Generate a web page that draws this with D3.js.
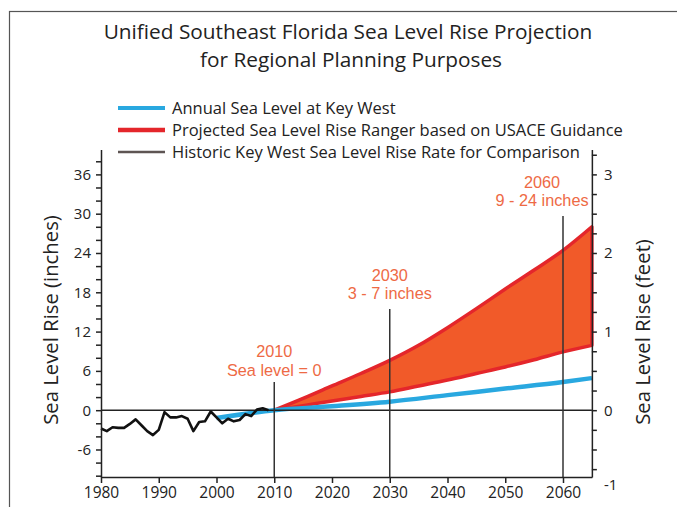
<!DOCTYPE html>
<html><head><meta charset="utf-8">
<script src="https://cdn.jsdelivr.net/npm/d3@7/dist/d3.min.js"></script>
<style>
html,body{margin:0;padding:0;background:#fff;}
svg{display:block;font-family:"Open Sans","Noto Sans",sans-serif;}
</style></head>
<body>
<svg id="c" width="677" height="507"></svg>
<script>
// ---- data ----
const histYears = [1980,1981,1982,1983,1984,1985,1986,1987,1988,1989,1990,1991,1992,1993,1994,1995,1996,1997,1998,1999,2000,2001,2002,2003,2004,2005,2006,2007,2008,2009];
const histInches = [-2.8,-3.2,-2.6,-2.7,-2.7,-2.1,-1.4,-2.3,-3.2,-3.8,-3.0,-0.3,-1.1,-1.1,-0.9,-1.3,-3.2,-1.8,-1.7,-0.2,-1.1,-2.0,-1.3,-1.7,-1.5,-0.6,-0.9,0.1,0.3,0.0];
const trendYears = [2000,2010,2020,2030,2040,2050,2060,2065];
const trendInches = [-1.2,0,0.6,1.3,2.3,3.3,4.3,4.9];
const projYears = [2010,2015,2020,2025,2030,2035,2040,2045,2050,2055,2060,2065];
const projLow = [0,0.7,1.4,2.1,2.8,3.7,4.6,5.6,6.6,7.7,8.9,9.9];
const projHigh = [0,1.8,3.7,5.6,7.6,9.9,12.6,15.5,18.5,21.4,24.4,28.0];
const xTicks = [1980,1990,2000,2010,2020,2030,2040,2050,2060];
const inchTickLabels = [-6,0,6,12,18,24,30,36];
const footTickLabels = [-1,0,1,2,3];
const markerYears = [2010,2030,2060];
const markerLine1 = ["2010","2030","2060"];
const markerLine2 = ["Sea level = 0","3 - 7 inches","9 - 24 inches"];
const legendLabels = ["Annual Sea Level at Key West","Projected Sea Level Rise Ranger based on USACE Guidance","Historic Key West Sea Level Rise Rate for Comparison"];

const svg = d3.select("#c");
const orange = "#ee6a45";
const blue = "#29a8e0", red = "#e4262b", fillOrange = "#f15a29";

// frame
svg.append("rect").attr("x",9.5).attr("y",11.5).attr("width",700).attr("height",520)
  .attr("fill","none").attr("stroke","#555").attr("stroke-width",1.2);

// scales
const x = d3.scaleLinear().domain([1980,2065]).range([101, 101+85*5.775]);
const yIn = d3.scaleLinear().domain([-10.2,39.8]).range([477, 477-50*6.55]);
const yFt = d3.scaleLinear().domain([-10.2/12,39.8/12]).range([477, 477-50*6.55]);

// title
svg.append("text").attr("x",348).attr("y",39).attr("text-anchor","middle")
  .attr("font-size",20.8).attr("fill","#222").text("Unified Southeast Florida Sea Level Rise Projection");
svg.append("text").attr("x",351).attr("y",67).attr("text-anchor","middle")
  .attr("font-size",20.8).attr("fill","#222").text("for Regional Planning Purposes");

// legend
const legendColors = [blue, red, "#5e5553"];
const legendWidths = [4, 4.5, 2.5];
const lg = svg.append("g");
legendLabels.forEach((lab,i)=>{
  const yy = 108 + i*22;
  lg.append("line").attr("x1",118).attr("x2",165).attr("y1",yy).attr("y2",yy)
    .attr("stroke",legendColors[i]).attr("stroke-width",legendWidths[i]);
  lg.append("text").attr("x",172).attr("y",yy+6).attr("font-size",16.5).attr("fill","#222").text(lab);
});

// projection band
const area = d3.area().curve(d3.curveMonotoneX)
  .x((d,i)=>x(projYears[i])).y0((d,i)=>yIn(projLow[i])).y1((d,i)=>yIn(projHigh[i]));
svg.append("path").datum(projYears).attr("d",area)
  .attr("fill",fillOrange).attr("stroke",red).attr("stroke-width",3.5).attr("stroke-linejoin","round");

// trend (blue)
const smooth = d3.line().curve(d3.curveMonotoneX);
svg.append("path").attr("d", smooth(trendYears.map((d,i)=>[x(d), yIn(trendInches[i])])))
  .attr("fill","none").attr("stroke",blue).attr("stroke-width",4.5);

// zero line
svg.append("line").attr("x1",x(1980)).attr("x2",x(2065)).attr("y1",yIn(0)).attr("y2",yIn(0))
  .attr("stroke","#222").attr("stroke-width",1.5);

// historic black
const line = d3.line();
svg.append("path").attr("d", line(histYears.map((d,i)=>[x(d), yIn(histInches[i])])))
  .attr("fill","none").attr("stroke","#111").attr("stroke-width",2.6).attr("stroke-linejoin","round");

// marker vertical lines and labels
const markerTops = [382, 309, 216];
const labelDx = [0, 0, -21];
const labelY = [357, 280.5, 187.5];
markerYears.forEach((yr,i)=>{
  const xx = x(yr);
  svg.append("line").attr("x1",xx).attr("x2",xx).attr("y1",markerTops[i]).attr("y2",yIn(-10.2))
    .attr("stroke","#333").attr("stroke-width",1.5);
  [markerLine1[i], markerLine2[i]].forEach((s,k)=>{
    svg.append("text").attr("x",xx+labelDx[i]).attr("y",labelY[i]+k*18.5)
      .attr("text-anchor","middle").attr("font-size",16.3).attr("fill",orange)
      .attr("font-family","'Liberation Sans', Arial, sans-serif").text(s);
  });
});

// left axis
const leftTicks = d3.range(-10,39,2);
const la = svg.append("g").attr("transform","translate(101,0)")
  .call(d3.axisLeft(yIn).tickValues(leftTicks).tickSize(5).tickSizeOuter(0)
    .tickFormat(d=> inchTickLabels.includes(d) ? d : ""));
la.selectAll("text").attr("font-size",15).attr("fill","#222").attr("x",-10).attr("font-family","Open Sans");
la.selectAll("line,path").attr("stroke","#222").attr("stroke-width",1.5);

// right axis
const rightTicks = d3.range(-0.75,3.3,0.25).concat([-1]);
const ra = svg.append("g").attr("transform","translate("+x(2065)+",0)")
  .call(d3.axisRight(yFt).tickValues(rightTicks).tickSize(5).tickSizeOuter(0)
    .tickFormat(d=> footTickLabels.includes(d) ? d : ""));
ra.selectAll("text").attr("font-size",15).attr("fill","#222").attr("x",12).attr("font-family","Open Sans");
ra.selectAll("line,path").attr("stroke","#222").attr("stroke-width",1.5);
ra.selectAll(".tick").filter(d=>d===-1).select("line").remove();
ra.selectAll(".tick").filter(d=>d===-1).select("text").attr("y",-4);

// bottom axis
const ba = svg.append("g").attr("transform","translate(0,"+yIn(-10.2)+")")
  .call(d3.axisBottom(x).tickValues(xTicks).tickSize(6).tickSizeOuter(0).tickFormat(d3.format("d")));
ba.selectAll("text").attr("font-size",15.5).attr("fill","#222").attr("y",10).attr("font-family","Open Sans");
ba.selectAll("line,path").attr("stroke","#222").attr("stroke-width",1.5);

// axis titles
svg.append("text").attr("transform","translate(58,320) rotate(-90)").attr("text-anchor","middle")
  .attr("font-size",20.3).attr("fill","#222").text("Sea Level Rise (inches)");
svg.append("text").attr("transform","translate(650,332) rotate(-90)").attr("text-anchor","middle")
  .attr("font-size",20.3).attr("fill","#222").text("Sea Level Rise (feet)");
</script>
</body></html>
